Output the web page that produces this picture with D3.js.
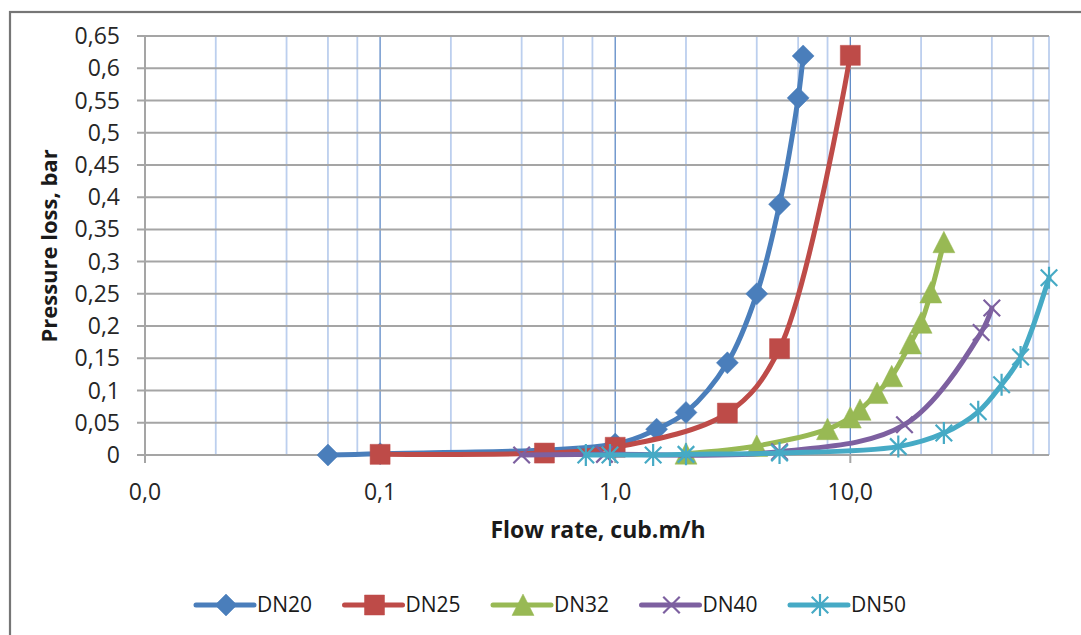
<!DOCTYPE html>
<html>
<head>
<meta charset="utf-8">
<script src="https://cdn.jsdelivr.net/npm/d3@7"></script>
<style>
  body { margin: 0; background: #fff; }
  svg { display: block; font-family: "Open Sans", sans-serif; }
</style>
</head>
<body>
<div id="chart"></div>
<script>
var width = 1081, height = 635;

// series (flow m3/h, pressure loss bar)
var seriesNames = ["DN20", "DN25", "DN32", "DN40", "DN50"];
var dn20x = [0.06, 0.1, 1, 1.5, 2, 3, 4, 5, 6, 6.3];
var dn20y = [0, 0.002, 0.017, 0.04, 0.066, 0.143, 0.25, 0.389, 0.554, 0.619];
var dn25x = [0.1, 0.5, 1, 3, 5, 10];
var dn25y = [0.001, 0.003, 0.012, 0.065, 0.165, 0.62];
var dn32x = [2, 4, 8, 10, 11, 13, 15, 18, 20, 22, 25];
var dn32y = [0.002, 0.014, 0.04, 0.058, 0.07, 0.096, 0.122, 0.173, 0.205, 0.252, 0.33];
var dn40x = [0.4, 0.9, 5, 17, 36, 40];
var dn40y = [0, 0.001, 0.005, 0.047, 0.19, 0.228];
var dn50x = [0.75, 0.95, 1.45, 2, 5, 16, 25, 35, 44, 53, 70];
var dn50y = [0, 0, 0, 0.001, 0.003, 0.013, 0.034, 0.067, 0.109, 0.152, 0.275];

var xTicks = [0.01, 0.1, 1, 10];
var xTickLabels = ["0,0", "0,1", "1,0", "10,0"];
var yTicks = [0, 0.05, 0.1, 0.15, 0.2, 0.25, 0.3, 0.35, 0.4, 0.45, 0.5, 0.55, 0.6, 0.65];

var colors = ["#4a7ebb", "#be4b48", "#98b954", "#7d60a0", "#46aac5"];
var markers = ["diamond", "square", "triangle", "x", "star"];

var xs = [dn20x, dn25x, dn32x, dn40x, dn50x],
    ys = [dn20y, dn25y, dn32y, dn40y, dn50y];
var series = seriesNames.map(function(n, i) {
  return { name: n, color: colors[i], marker: markers[i],
    values: xs[i].map(function(v, j) { return { x: v, y: ys[i][j] }; }) };
});

var margin = { left: 145, right: 1049, top: 36, bottom: 455 };

var svg = d3.select("#chart").append("svg")
  .attr("width", width).attr("height", height);

// outer chart frame
svg.append("rect")
  .attr("x", 10).attr("y", 12)
  .attr("width", 1100).attr("height", 700)
  .attr("fill", "#fff")
  .attr("stroke", "#767676").attr("stroke-width", 2.2);

var x = d3.scaleLog().domain([0.01, 70]).range([margin.left, margin.right]);
var y = d3.scaleLinear().domain([0, 0.65]).range([margin.bottom, margin.top]);

var fmtY = function(d) { return d3.format("~g")(+d.toFixed(2)).replace(".", ","); };

// minor vertical gridlines (2,4,6,8 of each decade)
var minor = [];
[0.01, 0.1, 1, 10].forEach(function(dec) {
  [2, 4, 6, 8].forEach(function(m) { if (dec * m <= 70) minor.push(dec * m); });
});
minor.push(70);

var grid = svg.append("g");
grid.selectAll("line.minor").data(minor).enter().append("line")
  .attr("class", "minor")
  .attr("x1", function(d) { return x(d); }).attr("x2", function(d) { return x(d); })
  .attr("y1", margin.top).attr("y2", margin.bottom)
  .attr("stroke", "#bccfee").attr("stroke-width", 1.8);

grid.selectAll("line.major").data(xTicks.slice(1)).enter().append("line")
  .attr("class", "major")
  .attr("x1", function(d) { return x(d); }).attr("x2", function(d) { return x(d); })
  .attr("y1", margin.top).attr("y2", margin.bottom)
  .attr("stroke", "#5d89c6").attr("stroke-width", 1.3);

// horizontal gridlines with outside ticks
grid.selectAll("line.h").data(yTicks).enter().append("line")
  .attr("class", "h")
  .attr("x1", margin.left - 8).attr("x2", margin.right)
  .attr("y1", function(d) { return y(d); }).attr("y2", function(d) { return y(d); })
  .attr("stroke", "#a5a5a5").attr("stroke-width", 2);

// y axis line
svg.append("line")
  .attr("x1", margin.left).attr("x2", margin.left)
  .attr("y1", margin.top).attr("y2", margin.bottom + 8)
  .attr("stroke", "#a5a5a5").attr("stroke-width", 2);

svg.selectAll("line.xt").data(xTicks.slice(1)).enter().append("line")
  .attr("x1", function(d) { return x(d); }).attr("x2", function(d) { return x(d); })
  .attr("y1", margin.bottom).attr("y2", margin.bottom + 8)
  .attr("stroke", "#a5a5a5").attr("stroke-width", 2);

// tick labels
svg.selectAll("text.yl").data(yTicks).enter().append("text")
  .attr("x", 120).attr("y", function(d) { return y(d); })
  .attr("dy", "0.35em").attr("text-anchor", "end")
  .attr("font-size", 23).attr("fill", "#262626")
  .text(fmtY);

svg.selectAll("text.xl").data(xTicks).enter().append("text")
  .attr("x", function(d) { return x(d); }).attr("y", 492)
  .attr("dy", "0.35em").attr("text-anchor", "middle")
  .attr("font-size", 23).attr("fill", "#262626")
  .text(function(d, i) { return xTickLabels[i]; });

// axis titles
svg.append("text")
  .attr("x", 598).attr("y", 530).attr("dy", "0.35em")
  .attr("text-anchor", "middle").attr("font-size", 23).attr("font-weight", "bold")
  .attr("fill", "#1a1a1a")
  .text("Flow rate, cub.m/h");

svg.append("text")
  .attr("transform", "translate(49,246) rotate(-90)")
  .attr("dy", "0.35em")
  .attr("text-anchor", "middle").attr("font-size", 22).attr("font-weight", "bold")
  .attr("fill", "#1a1a1a")
  .text("Pressure loss, bar");

function markerPath(type, r) {
  if (type === "diamond") return "M0," + -r + "L" + r + ",0L0," + r + "L" + -r + ",0Z";
  if (type === "square") return "M" + -r + "," + -r + "h" + 2 * r + "v" + 2 * r + "h" + -2 * r + "Z";
  if (type === "triangle") return "M0," + -r + "L" + r + "," + r * 0.95 + "L" + -r + "," + r * 0.95 + "Z";
  var a = r * 0.75;
  var p = "M" + -a + "," + -a + "L" + a + "," + a + "M" + a + "," + -a + "L" + -a + "," + a;
  if (type === "star") p += "M0," + -r + "L0," + r;
  return p;
}

function drawMarker(sel, s) {
  var filled = s.marker === "diamond" || s.marker === "square" || s.marker === "triangle";
  sel.attr("d", markerPath(s.marker, s.marker === "square" ? 10 : 11))
    .attr("fill", filled ? s.color : "none")
    .attr("stroke", s.color)
    .attr("stroke-width", filled ? 0.5 : 2.2);
}

var line = d3.line()
  .x(function(d) { return x(d.x); })
  .y(function(d) { return y(d.y); })
  .curve(d3.curveCatmullRom.alpha(0.5));

var plot = svg.append("g");
series.forEach(function(s) {
  var g = plot.append("g");
  g.append("path")
    .datum(s.values)
    .attr("d", line)
    .attr("fill", "none")
    .attr("stroke", s.color)
    .attr("stroke-width", 5)
    .attr("stroke-linejoin", "round")
    .attr("stroke-linecap", "round");
  g.selectAll("path.m").data(s.values).enter().append("path")
    .attr("class", "m")
    .attr("transform", function(d) { return "translate(" + x(d.x) + "," + y(d.y) + ")"; })
    .each(function() { drawMarker(d3.select(this), s); });
});

// legend
var legend = svg.append("g").attr("transform", "translate(196,605)");
var item = legend.selectAll("g").data(series).enter().append("g")
  .attr("transform", function(d, i) { return "translate(" + i * 148.5 + ",0)"; });
item.append("line")
  .attr("x1", 0).attr("x2", 58).attr("y1", 0).attr("y2", 0)
  .attr("stroke", function(d) { return d.color; })
  .attr("stroke-width", 5).attr("stroke-linecap", "round");
item.append("path")
  .attr("transform", "translate(30,0)")
  .each(function(d) { drawMarker(d3.select(this), d); });
item.append("text")
  .attr("x", 61).attr("y", 0).attr("dy", "0.35em")
  .attr("font-size", 21).attr("fill", "#1a1a1a")
  .text(function(d) { return d.name; });
</script>
</body>
</html>
